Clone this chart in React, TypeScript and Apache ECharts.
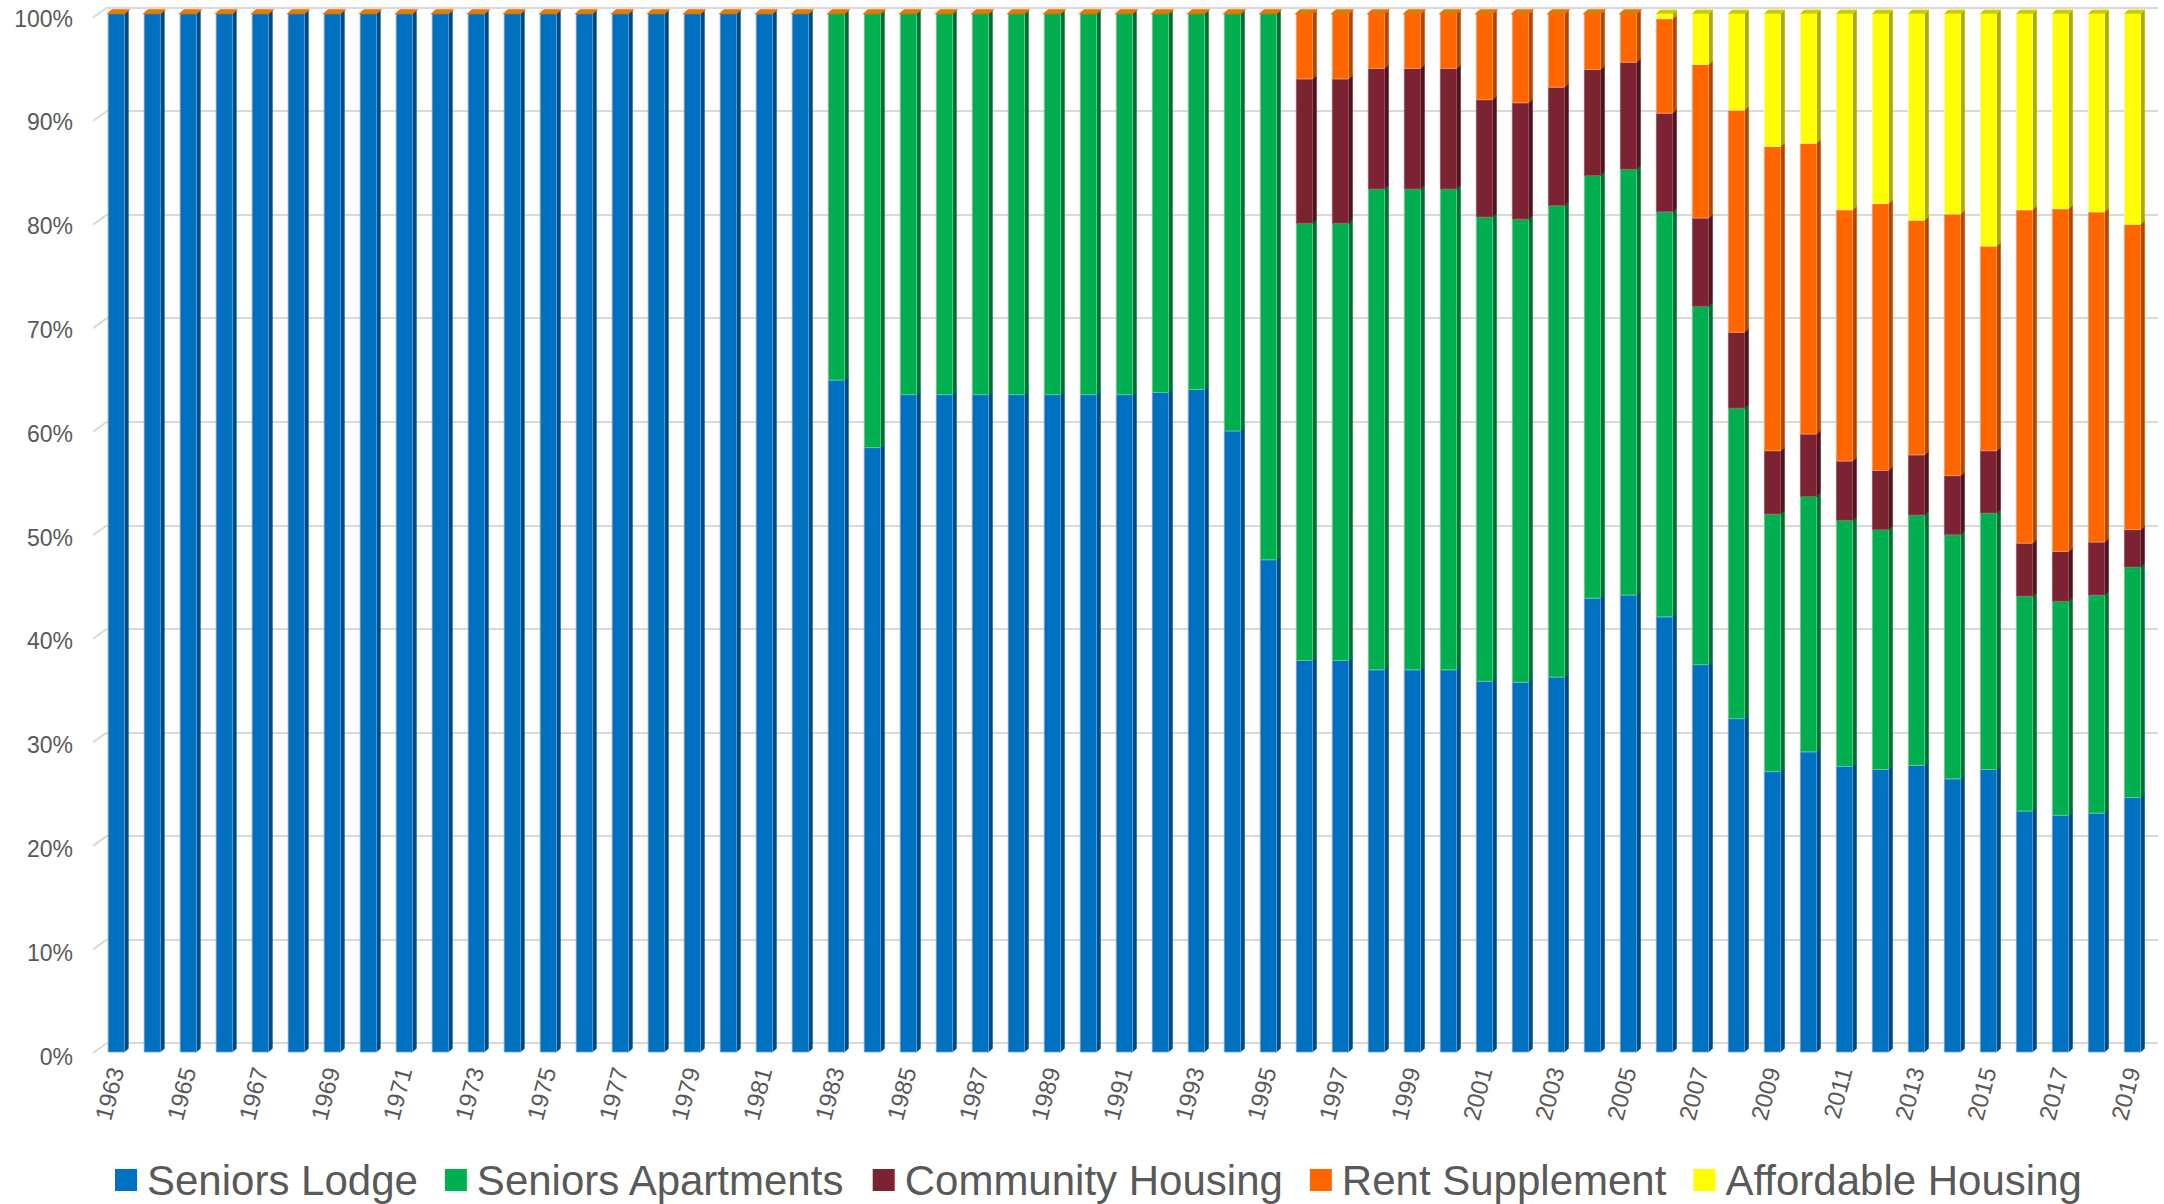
import React, { useEffect, useRef } from 'react';
import * as echarts from 'echarts';

const years = [
  '1963','1964','1965','1966','1967','1968','1969','1970','1971','1972',
  '1973','1974','1975','1976','1977','1978','1979','1980','1981','1982',
  '1983','1984','1985','1986','1987','1988','1989','1990','1991','1992',
  '1993','1994','1995','1996','1997','1998','1999','2000','2001','2002',
  '2003','2004','2005','2006','2007','2008','2009','2010','2011','2012',
  '2013','2014','2015','2016','2017','2018','2019'
];

const seriesNames = ['Seniors Lodge', 'Seniors Apartments', 'Community Housing', 'Rent Supplement', 'Affordable Housing'];

const seniorsLodge = [
  100,100,100,100,100,100,100,100,100,100,
  100,100,100,100,100,100,100,100,100,100,
  64.7,58.2,63.3,63.3,63.3,63.3,63.3,63.3,63.3,63.5,
  63.8,59.8,47.4,37.7,37.7,36.8,36.8,36.8,35.7,35.6,
  36.1,43.7,44.0,41.9,37.3,32.1,27.0,28.9,27.5,27.2,
  27.6,26.3,27.2,23.2,22.8,23.0,24.5
];
const seniorsApartments = [
  0,0,0,0,0,0,0,0,0,0,
  0,0,0,0,0,0,0,0,0,0,
  35.3,41.8,36.7,36.7,36.7,36.7,36.7,36.7,36.7,36.5,
  36.2,40.2,52.6,42.1,42.1,46.3,46.3,46.3,44.7,44.6,
  45.4,40.7,41.0,39.0,34.5,29.9,24.8,24.6,23.7,23.1,
  24.1,23.5,24.7,20.7,20.6,21.0,22.2
];
const communityHousing = [
  0,0,0,0,0,0,0,0,0,0,
  0,0,0,0,0,0,0,0,0,0,
  0,0,0,0,0,0,0,0,0,0,
  0,0,0,13.9,13.9,11.6,11.6,11.6,11.3,11.2,
  11.4,10.2,10.3,9.5,8.5,7.3,6.1,6.0,5.7,5.7,
  5.8,5.7,6.0,5.1,4.8,5.1,3.6
];
const rentSupplement = [
  0,0,0,0,0,0,0,0,0,0,
  0,0,0,0,0,0,0,0,0,0,
  0,0,0,0,0,0,0,0,0,0,
  0,0,0,6.3,6.3,5.3,5.3,5.3,8.3,8.6,
  7.1,5.4,4.7,9.1,14.8,21.4,29.3,28.0,24.2,25.7,
  22.6,25.2,19.7,32.1,33.0,31.8,29.4
];
const affordableHousing = [
  0,0,0,0,0,0,0,0,0,0,
  0,0,0,0,0,0,0,0,0,0,
  0,0,0,0,0,0,0,0,0,0,
  0,0,0,0,0,0,0,0,0,0,
  0,0,0,0.5,4.9,9.3,12.8,12.5,18.9,18.3,
  19.9,19.3,22.4,18.9,18.8,19.1,20.3
];

const yTicks = [0, 10, 20, 30, 40, 50, 60, 70, 80, 90, 100];

const frontColors = ['#0070C0', '#00B050', '#7B2332', '#FF6600', '#FFFF00'];
const sideColors = ['#00497E', '#006E32', '#4C1520', '#B24700', '#ABAB00'];
const edgeColors = ['#5FA4DC', '#66D08E', '#A0505E', '#FF9A5C', '#FFFF99'];

const FONT = '"Liberation Sans", Arial, sans-serif';
const TEXT = '#595959';

export default function App() {
  const ref = useRef<HTMLDivElement>(null);

  useEffect(() => {
    document.body.style.margin = '0';
    document.body.style.overflow = 'hidden';
    if (!ref.current) return;
    const chart = echarts.init(ref.current, undefined, { renderer: 'svg' });

    const all = [seniorsLodge, seniorsApartments, communityHousing, rentSupplement, affordableHousing];
    const stacked: number[][][] = all.map(() => []);
    years.forEach((_, i) => {
      const total = all.reduce((s, arr) => s + arr[i], 0);
      let acc = 0;
      all.forEach((arr, k) => {
        const v = (arr[i] / total) * 100;
        stacked[k].push([i, acc, acc + v]);
        acc += v;
      });
    });

    const barSeries = seriesNames.map((name, k) => ({
      name,
      type: 'custom',
      xAxisIndex: 1,
      yAxisIndex: 1,
      itemStyle: { color: frontColors[k] },
      encode: { x: 0, y: [1, 2] },
      data: stacked[k],
      renderItem: (params: any, api: any) => {
        const idx = api.value(0);
        const s = api.value(1);
        const e = api.value(2);
        if (e - s <= 0.0001) return { type: 'group', children: [] };
        const pb = api.coord([idx, s]);
        const pt = api.coord([idx, e]);
        const band = api.size([1, 0])[0];
        const fw = band * 0.45;
        const dx = band * 0.11;
        const dy = 3.5;
        const x0 = pb[0] - fw / 2;
        const x1 = x0 + fw;
        return {
          type: 'group',
          children: [
            {
              type: 'polygon',
              shape: { points: [[x1, pb[1]], [x1, pt[1]], [x1 + dx, pt[1] - dy], [x1 + dx, pb[1] - dy]] },
              style: { fill: sideColors[k], stroke: sideColors[k], lineWidth: 0.5 },
            },
            {
              type: 'rect',
              shape: { x: x0, y: pt[1], width: fw, height: pb[1] - pt[1] },
              style: { fill: frontColors[k], stroke: edgeColors[k], lineWidth: 0.8 },
            },
          ],
        };
      },
    }));

    const capData = years.map((_, i) => [i, 100, affordableHousing[i] > 0 ? 1 : 0]);
    const capSeries = {
      name: 'caps',
      type: 'custom',
      xAxisIndex: 1,
      yAxisIndex: 1,
      silent: true,
      data: capData,
      renderItem: (params: any, api: any) => {
        const idx = api.value(0);
        const hasAff = api.value(2) > 0;
        const p = api.coord([idx, api.value(1)]);
        const band = api.size([1, 0])[0];
        const fw = band * 0.45;
        const dx = band * 0.11;
        const dy = 3.5;
        const x0 = p[0] - fw / 2;
        const x1 = x0 + fw;
        return {
          type: 'polygon',
          shape: { points: [[x0, p[1]], [x1, p[1]], [x1 + dx, p[1] - dy], [x0 + dx, p[1] - dy]] },
          style: {
            fill: hasAff ? '#C9C900' : '#A89A00',
            stroke: hasAff ? '#D8D800' : '#FF6600',
            lineWidth: hasAff ? 0.8 : 1.4,
          },
        };
      },
    };

    const diagSeries = {
      name: 'walls',
      type: 'custom',
      xAxisIndex: 0,
      yAxisIndex: 0,
      silent: true,
      data: yTicks.map((v) => [0, v]),
      renderItem: (params: any, api: any) => {
        const p = api.coord([0, api.value(1)]);
        return {
          type: 'line',
          shape: { x1: p[0], y1: p[1], x2: p[0] - 14, y2: p[1] + 10 },
          style: { stroke: '#D9D9D9', lineWidth: 2 },
        };
      },
    };

    chart.setOption({
      animation: false,
      backgroundColor: '#FFFFFF',
      grid: [
        { left: 107, right: 6, top: 7.5, bottom: 161 },
        { left: 98.3, right: 13.5, top: 13.5, bottom: 152 },
        { left: 93, right: 13.5, top: 18.5, bottom: 147.3 },
      ],
      xAxis: [
        { gridIndex: 0, type: 'value', min: 0, max: 1, show: false },
        {
          gridIndex: 1,
          type: 'category',
          data: years,
          axisLine: { show: false },
          axisTick: { show: false },
          axisLabel: {
            interval: 1,
            rotate: 75,
            margin: 16,
            fontSize: 24,
            color: TEXT,
            fontFamily: FONT,
          },
        },
        { gridIndex: 2, type: 'value', min: 0, max: 1, show: false },
      ],
      yAxis: [
        {
          gridIndex: 0,
          type: 'value',
          min: 0,
          max: 100,
          interval: 10,
          axisLabel: { show: false },
          axisLine: { show: false },
          axisTick: { show: false },
          splitLine: { show: true, lineStyle: { color: '#D9D9D9', width: 2 } },
        },
        { gridIndex: 1, type: 'value', min: 0, max: 100, show: false, splitLine: { show: false } },
        {
          gridIndex: 2,
          type: 'value',
          min: 0,
          max: 100,
          interval: 10,
          axisLine: { show: false },
          axisTick: { show: false },
          splitLine: { show: false },
          axisLabel: {
            formatter: '{value}%',
            margin: 20,
            fontSize: 23,
            color: TEXT,
            fontFamily: FONT,
          },
        },
      ],
      legend: {
        data: seriesNames.map((n) => ({ name: n, icon: 'rect' })),
        left: 110,
        top: 1154,
        itemWidth: 22,
        itemHeight: 22,
        itemGap: 27,
        textStyle: { fontSize: 42, color: TEXT, fontFamily: FONT, padding: [0, 0, 0, 5] },
      },
      series: [diagSeries, ...barSeries, capSeries],
    });

    return () => chart.dispose();
  }, []);

  return <div ref={ref} style={{ width: 2164, height: 1204 }} />;
}
